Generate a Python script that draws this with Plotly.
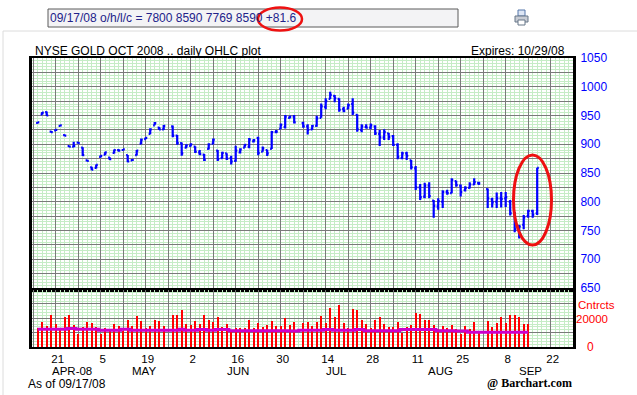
import numpy as np
import plotly.graph_objects as go

# ---------------- data ----------------
dates = [
    "2008-04-15", "2008-04-16", "2008-04-17", "2008-04-18",
    "2008-04-21", "2008-04-22", "2008-04-23", "2008-04-24", "2008-04-25",
    "2008-04-28", "2008-04-29", "2008-04-30", "2008-05-01", "2008-05-02",
    "2008-05-05", "2008-05-06", "2008-05-07", "2008-05-08", "2008-05-09",
    "2008-05-12", "2008-05-13", "2008-05-14", "2008-05-15", "2008-05-16",
    "2008-05-19", "2008-05-20", "2008-05-21", "2008-05-22", "2008-05-23",
    "2008-05-27", "2008-05-28", "2008-05-29", "2008-05-30",
    "2008-06-02", "2008-06-03", "2008-06-04", "2008-06-05", "2008-06-06",
    "2008-06-09", "2008-06-10", "2008-06-11", "2008-06-12", "2008-06-13",
    "2008-06-16", "2008-06-17", "2008-06-18", "2008-06-19", "2008-06-20",
    "2008-06-23", "2008-06-24", "2008-06-25", "2008-06-26", "2008-06-27",
    "2008-06-30", "2008-07-01", "2008-07-02", "2008-07-03",
    "2008-07-07", "2008-07-08", "2008-07-09", "2008-07-10", "2008-07-11",
    "2008-07-14", "2008-07-15", "2008-07-16", "2008-07-17", "2008-07-18",
    "2008-07-21", "2008-07-22", "2008-07-23", "2008-07-24", "2008-07-25",
    "2008-07-28", "2008-07-29", "2008-07-30", "2008-07-31", "2008-08-01",
    "2008-08-04", "2008-08-05", "2008-08-06", "2008-08-07", "2008-08-08",
    "2008-08-11", "2008-08-12", "2008-08-13", "2008-08-14", "2008-08-15",
    "2008-08-18", "2008-08-19", "2008-08-20", "2008-08-21", "2008-08-22",
    "2008-08-25", "2008-08-26", "2008-08-27", "2008-08-28", "2008-08-29",
    "2008-09-02", "2008-09-03", "2008-09-04", "2008-09-05",
    "2008-09-08", "2008-09-09", "2008-09-10", "2008-09-11", "2008-09-12",
    "2008-09-15", "2008-09-16", "2008-09-17",
]

opens = [
    937, 952, 956, 922,
    924, 932, 916, 897, 896,
    903, 894, 872, 860, 859,
    878, 882, 877, 885, 890,
    890, 881, 872, 881, 901,
    909, 918, 933, 929, 926,
    931, 915, 902, 894,
    897, 896, 886, 882, 892,
    901, 889, 876, 884, 876,
    871, 886, 894, 896, 905,
    911, 887, 890, 892, 921,
    927, 930, 946, 948,
    937, 931, 926, 932, 946,
    965, 979, 984, 979, 961,
    962, 970, 951, 925, 930,
    929, 931, 918, 912, 919,
    914, 899, 876, 884, 872,
    858, 825, 809, 828, 802,
    792, 800, 817, 815, 836,
    828, 820, 824, 830, 833,
    822, 804, 800, 806,
    806, 800, 779, 751, 760,
    775, 784, 780,
]
highs = [
    939, 956, 957, 923,
    926, 934, 917, 898, 904.5,
    903.5, 895, 872.5, 861, 865,
    881, 887, 877.5, 891, 891.5,
    891.5, 881.5, 874.5, 890, 910,
    912, 927.7, 938.5, 930, 933.5,
    932.5, 916, 903, 900,
    901.6, 896.5, 890, 883, 901.6,
    910, 890, 887, 884.5, 880,
    897.5, 893, 900, 911, 909,
    913, 896, 890.5, 923, 924.7,
    936, 950.8, 949.7, 950.8,
    939, 934.6, 933.4, 949.7, 971,
    979.8, 991.4, 985.6, 979.8, 965.3,
    971, 979.8, 952, 934.6, 934.6,
    936, 933, 924.8, 926, 919.5,
    916, 901.6, 887, 887, 872.5,
    862, 831, 833, 834, 803,
    806, 820, 821, 841, 836.5,
    830, 827, 834, 841, 835,
    823, 807, 816, 817,
    817, 803, 782, 760, 777,
    786, 786, 859,
]
lows = [
    936, 951.5, 949, 920,
    923.5, 931.5, 914, 895, 894.7,
    901.5, 879.6, 870, 854.7, 858,
    877, 881, 872.7, 884, 887,
    889.5, 868.6, 872, 880.5, 900,
    908.6, 917.3, 933, 925, 925,
    912, 899, 880, 893,
    896, 885, 881, 871, 891,
    900, 871, 875, 872.6, 865,
    869.7, 884, 894, 893, 903,
    881, 887, 879.5, 891.7, 919,
    926.5, 927.6, 945, 936,
    928.8, 917, 924.7, 930.5, 946,
    961, 978.6, 972.9, 956.6, 955.5,
    961.3, 950.8, 921.8, 920.7, 927.6,
    926, 916, 897, 907.4, 907.4,
    897, 873.8, 873.8, 872.6, 856,
    820.5, 803, 806, 806, 772,
    786, 789, 812, 815, 826,
    809, 818, 823, 829, 829,
    789, 790, 789, 790,
    791, 776, 747, 736, 752,
    772, 772, 776.9,
]
closes = [
    938, 955, 950, 921,
    925, 933, 915, 896, 897,
    902, 881, 871, 856, 864,
    880, 886, 874, 890, 889,
    891, 870, 873, 889, 908,
    911, 926, 937, 926, 932,
    915, 902, 884, 898,
    900, 887, 883, 873, 900,
    908, 874, 885, 875, 870,
    889, 891, 899, 908, 907,
    885, 893, 884, 921, 922,
    934, 948, 948, 938,
    931, 925, 932, 945, 966,
    975, 986, 980, 960, 958,
    968, 955, 926, 931, 929,
    933, 919, 912, 921, 913,
    899, 878, 884, 880, 860,
    825, 808, 828, 810, 793,
    801, 817, 815, 838, 829,
    817, 824, 830, 834, 832,
    806, 799, 806, 805,
    808, 780, 752, 757, 773,
    784, 777.4, 859,
]

# daily volume (contracts) - reported through 09/15/08
volumes = [
    12900, 16900, 14000, 21300,
    15300, 12900, 20000, 21300, 14700,
    8700, 13300, 16700, 16000, 13300,
    8700, 12700, 10700, 15300, 14000,
    10700, 18000, 14000, 20700, 17300,
    12700, 14000, 18000, 17300, 14000,
    21300, 21300, 24700, 15300,
    14700, 17300, 15300, 21300, 18000,
    16700, 20000, 13300, 15300, 10700,
    12700, 12700, 12700, 18000, 12700,
    16000, 13300, 14700, 17300, 14000,
    14000, 19300, 14700, 16700,
    16000, 16700, 14000, 16700, 20700,
    16000, 26000, 20000, 28000, 16000,
    12700, 25300, 24700, 18000, 15300,
    12700, 18000, 20000, 15300, 13300,
    13300, 16700, 9600, 13300, 14700,
    22700, 22000, 18000, 18000, 14700,
    12000, 14000, 12700, 14700, 12000,
    8700, 14000, 12000, 16700, 10700,
    17300, 13300, 16000, 20000,
    16000, 21300, 21300, 20000, 15300,
    15300,
]
# magenta average volume line
vol_avg = [
    11800, 11800, 11800, 11800,
    11800, 11800, 11800, 12400, 12400,
    11800, 11800, 11800, 11800, 11800,
    11100, 11100, 11100, 11100, 11100,
    11800, 11800, 11100, 11100, 11100,
    11100, 11100, 11100, 11100, 11100,
    11100, 11100, 11800, 11100,
    11100, 11100, 11600, 11600, 11100,
    11100, 11600, 11600, 11600, 10900,
    10900, 10900, 10900, 10900, 10900,
    10900, 10900, 10900, 10900, 10900,
    10900, 10900, 10700, 10700,
    11100, 11100, 11100, 11100, 11100,
    11600, 11600, 11100, 11100, 11100,
    11100, 11100, 11600, 11600, 10900,
    10900, 10900, 10900, 10900, 10900,
    10900, 10900, 11600, 11600, 11600,
    11600, 11600, 11600, 11600, 11600,
    10900, 10900, 10900, 10900, 10700,
    10700, 10700, 9800, 9800, 9800,
    9800, 9800, 9800, 9800,
    9800, 9800, 9800, 9800, 9800,
    9800,
]

# x-axis ticks (weekly Mondays), labels every two weeks
tick_dates = [
    "2008-04-14", "2008-04-21", "2008-04-28", "2008-05-05", "2008-05-12",
    "2008-05-19", "2008-05-26", "2008-06-02", "2008-06-09", "2008-06-16",
    "2008-06-23", "2008-06-30", "2008-07-07", "2008-07-14", "2008-07-21",
    "2008-07-28", "2008-08-04", "2008-08-11", "2008-08-18", "2008-08-25",
    "2008-09-01", "2008-09-08", "2008-09-15", "2008-09-22",
]
tick_text = [
    "", "21", "", "5", "", "19", "", "2", "", "16", "", "30", "", "14", "",
    "28", "", "11", "", "25", "", "8", "", "22",
]
month_labels = ["APR-08", "MAY", "JUN", "JUL", "AUG", "SEP"]
month_pos = [3.6, 19.6, 40.6, 62.5, 85.4, 105.4]  # in trading-day units

price_ticks = list(range(650, 1051, 25))
price_text = [str(v) if v % 50 == 0 else "" for v in price_ticks]

# ---------------- scales ----------------
base = np.datetime64("2008-04-21")
x_all = np.busday_count(base, np.array(dates, dtype="datetime64[D]"))
x_vol = x_all[:len(volumes)]
x_ticks = np.busday_count(base, np.array(tick_dates, dtype="datetime64[D]"))

W, H = 637, 395
L, R, T, B = 32, 573, 58, 347
SPLIT = 290


def px(x):
    return (x - L) / (R - L)


def py(y):
    return (B - y) / (B - T)


FONT = "Liberation Sans, Arial, sans-serif"
MAJOR = "#7a7a7a"
MINOR = "#c6ecc6"

fig = go.Figure()

fig.add_trace(go.Bar(
    x=x_vol, y=volumes, width=0.45, marker=dict(color="#ff0000", line_width=0),
    xaxis="x2", yaxis="y2", hoverinfo="skip"))
fig.add_trace(go.Scatter(
    x=x_vol, y=vol_avg, mode="lines", line=dict(color="#cc00cc", width=3, shape="hvh"),
    xaxis="x2", yaxis="y2", hoverinfo="skip"))
fig.add_trace(go.Ohlc(
    x=x_all, open=opens, high=highs, low=lows, close=closes,
    increasing=dict(line=dict(color="#0000ff", width=2.2)),
    decreasing=dict(line=dict(color="#0000ff", width=2.2)),
    tickwidth=0.35, xaxis="x", yaxis="y", hoverinfo="skip"))

xrange = [(L - 55.7) / 4.5, (R - 55.7) / 4.5]
xcommon = dict(
    range=xrange, tickmode="array", tickvals=x_ticks, ticktext=tick_text,
    showgrid=True, gridcolor=MAJOR, gridwidth=1, zeroline=False,
    showline=True, mirror=True, linecolor="black", linewidth=2, ticks="",
    minor=dict(tickmode="linear", tick0=0, dtick=1, showgrid=True,
               gridcolor=MINOR, gridwidth=1, ticks=""),
)

vol_major = 9583

fig.update_layout(
    width=W, height=H,
    margin=dict(l=L, r=W - R, t=T, b=H - B, pad=0),
    paper_bgcolor="white", plot_bgcolor="white",
    showlegend=False,
    xaxis=dict(**xcommon, anchor="y", showticklabels=False,
               rangeslider=dict(visible=False)),
    xaxis2=dict(**xcommon, anchor="y2", matches="x", showticklabels=True,
                tickfont=dict(family=FONT, size=11.5, color="black"),
                ticklabelshift=2, ticklabelstandoff=0),
    yaxis=dict(domain=[py(SPLIT), 1], range=[1050 - (SPLIT - T) * 400 / 230, 1050],
               side="right", tickmode="array", tickvals=price_ticks, ticktext=price_text,
               tickfont=dict(family=FONT, size=12, color="#0000ff"),
               showgrid=True, gridcolor=MAJOR, gridwidth=1, zeroline=False,
               showline=True, mirror=True, linecolor="black", linewidth=3, ticks="",
               ticklabelstandoff=2,
               minor=dict(tickmode="linear", tick0=650, dtick=5, showgrid=True,
                          gridcolor=MINOR, gridwidth=1, ticks="")),
    yaxis2=dict(domain=[0, py(SPLIT)], range=[0, 38000], side="right",
                tickmode="array", tickvals=[0, vol_major, 2 * vol_major, 3 * vol_major],
                showticklabels=False,
                showgrid=True, gridcolor=MAJOR, gridwidth=1, zeroline=False,
                showline=True, mirror=True, linecolor="black", linewidth=3, ticks="",
                minor=dict(tickmode="linear", tick0=0, dtick=vol_major / 5, showgrid=True,
                           gridcolor=MINOR, gridwidth=1, ticks="")),
    bargap=0,
)

# header text built from last bar
last_o, last_h, last_l, last_c = opens[-1], highs[-1], lows[-1], closes[-1]
chg = last_c - closes[-2]
d = np.datetime64(dates[-1]).astype(object)
header = (f"{d:%m/%d/%y} o/h/l/c = {round(last_o * 10)} {round(last_h * 10)} "
          f"{round(last_l * 10)} {round(last_c * 10)} {chg:+.1f}")

shapes = [
    dict(type="rect", xref="paper", yref="paper", x0=px(3), x1=px(645), y0=py(31), y1=py(405),
         line=dict(color="#dcdcdc", width=1), fillcolor="rgba(0,0,0,0)", layer="below"),
    dict(type="rect", xref="paper", yref="paper", x0=px(48), x1=px(458), y0=py(9), y1=py(27),
         line=dict(color="#5a5a5a", width=1), fillcolor="#f3f3f5", layer="below"),
    dict(type="circle", xref="paper", yref="paper", x0=px(258), x1=px(302), y0=py(7.5), y1=py(30.5),
         line=dict(color="#ee1111", width=2.5)),
    dict(type="circle", xref="paper", yref="paper", x0=px(513.5), x1=px(551.5), y0=py(155), y1=py(245),
         line=dict(color="#ee1111", width=3)),
    # printer icon (partly visible at the right edge)
    dict(type="rect", xref="paper", yref="paper", x0=px(518), x1=px(525), y0=py(10), y1=py(16),
         line=dict(color="#5577aa", width=1), fillcolor="#dde6f5"),
    dict(type="rect", xref="paper", yref="paper", x0=px(515), x1=px(528), y0=py(16), y1=py(22),
         line=dict(color="#667788", width=1), fillcolor="#c8ccd4"),
    dict(type="rect", xref="paper", yref="paper", x0=px(518), x1=px(525), y0=py(20), y1=py(25),
         line=dict(color="#667788", width=1), fillcolor="#ffffff"),
]

ann = []


def text(x, y, s, color="black", size=12, anchor="left", family=FONT):
    ann.append(dict(xref="paper", yref="paper", x=px(x), y=py(y), text=s, showarrow=False,
                    xanchor=anchor, yanchor="middle",
                    font=dict(family=family, size=size, color=color), borderpad=0))


text(48.5, 18, header, color="#22228a", size=12)
text(34, 51, "NYSE GOLD OCT 2008 .. daily OHLC plot", size=12)
text(566, 51, "Expires: 10/29/08", size=12, anchor="right")
text(596, 305, "Cntrcts", color="#ff0000", size=11.5, anchor="center")
text(591.5, 318.5, "20000", color="#ff0000", size=11.5, anchor="center")
text(590.5, 346.5, "0", color="#ff0000", size=12, anchor="center")
text(27, 384.5, "As of 09/17/08", size=12)
text(486, 383, "<b>@ Barchart.com</b>", size=12,
     family="Liberation Serif, Times New Roman, serif")

for lab, pos in zip(month_labels, month_pos):
    ann.append(dict(xref="x2", yref="paper", x=pos, y=py(371), text=lab, showarrow=False,
                    xanchor="center", yanchor="middle",
                    font=dict(family=FONT, size=11.5, color="black"), borderpad=0))

fig.update_layout(shapes=shapes, annotations=ann)

fig.write_html("out.html", config={"displayModeBar": False},
               post_script="document.body.style.margin='0';document.body.style.padding='0';")
